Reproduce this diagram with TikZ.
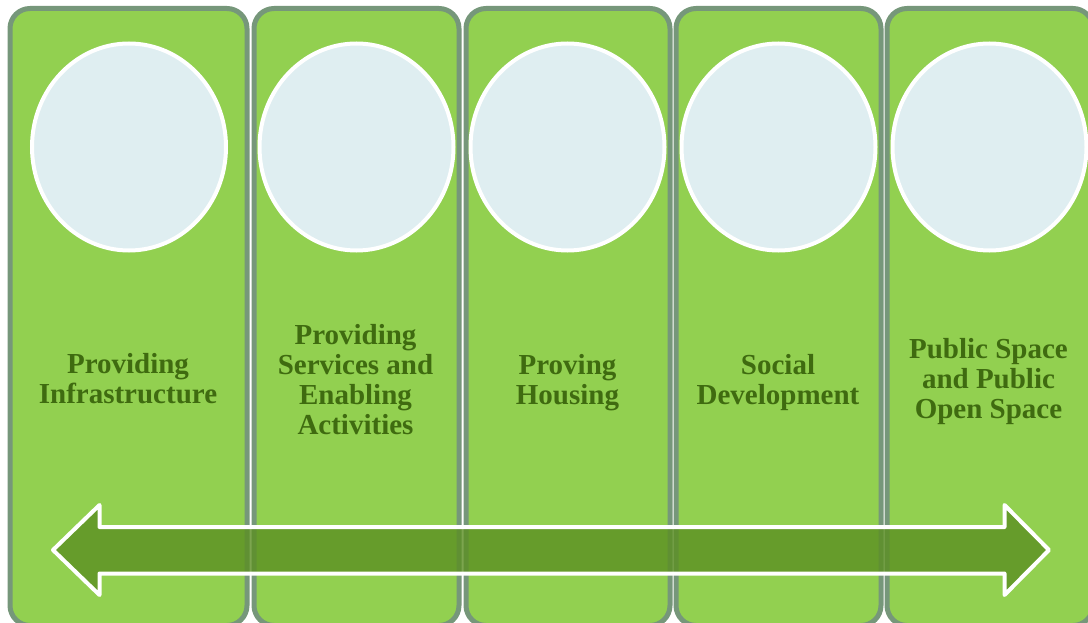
\documentclass[tikz,border=0pt]{standalone}
\usepackage{fontspec}
\setmainfont{Liberation Serif}
\usepackage{xcolor}
\usepackage{tikz}
\usetikzlibrary{shapes.geometric, positioning}
\definecolor{panelgreen}{HTML}{92D050}
\definecolor{panelline}{HTML}{76977A}
\definecolor{discfill}{HTML}{DFEEF1}
\definecolor{labelgreen}{HTML}{3F6B10}
\definecolor{arrowgreen}{HTML}{5B8F22}

\begin{document}
\begin{tikzpicture}[x=1pt, y=-1pt,
  panel/.style={draw=panelline, fill=panelgreen, line width=5pt,
    rounded corners=20pt, inner sep=0pt, minimum height=617pt},
  disc/.style={ellipse, draw=white, fill=discfill, line width=4pt,
    inner sep=0pt, minimum width=194pt, minimum height=207pt},
  label/.style={align=center, text=labelgreen, inner sep=0pt,
    font=\fontsize{29}{30}\selectfont\bfseries},
  bigarrow/.style={draw=white, line width=4pt, fill=arrowgreen,
    fill opacity=0.8, line join=round}]
\useasboundingbox (0,0) rectangle (1088,623);

% columns
\node[panel, minimum width=237pt] (col1) at (128.5,317) {};
\node[panel, minimum width=205pt] (col2) at (356.5,317) {};
\node[panel, minimum width=204pt] (col3) at (568,317) {};
\node[panel, minimum width=205pt] (col4) at (778.5,317) {};
\node[panel, minimum width=206pt] (col5) at (990,317) {};

% circles
\node[disc] (disc1) at (129,147) {};
\node[disc] (disc2) at (356.5,147) {};
\node[disc] (disc3) at (567.5,147) {};
\node[disc] (disc4) at (778.5,147) {};
\node[disc] (disc5) at (989.5,147) {};

% texts
\node[label] (lab1) at (128,379) {Providing\\Infrastructure};
\node[label] (lab2) at (355.5,380) {Providing\\Services and\\Enabling\\Activities};
\node[label] (lab3) at (567.5,383) {Proving\\Housing};
\node[label] (lab4) at (778,383) {Social\\Development};
\node[label] (lab5) at (988.5,382) {Public Space\\and Public\\Open Space};

% double arrow
\draw[bigarrow] (53,550) -- (99.5,505) -- (99.5,527) -- (1004.5,527)
  -- (1004.5,505) -- (1049,550) -- (1004.5,595) -- (1004.5,573.5)
  -- (99.5,573.5) -- (99.5,595) -- cycle;
\end{tikzpicture}
\end{document}
